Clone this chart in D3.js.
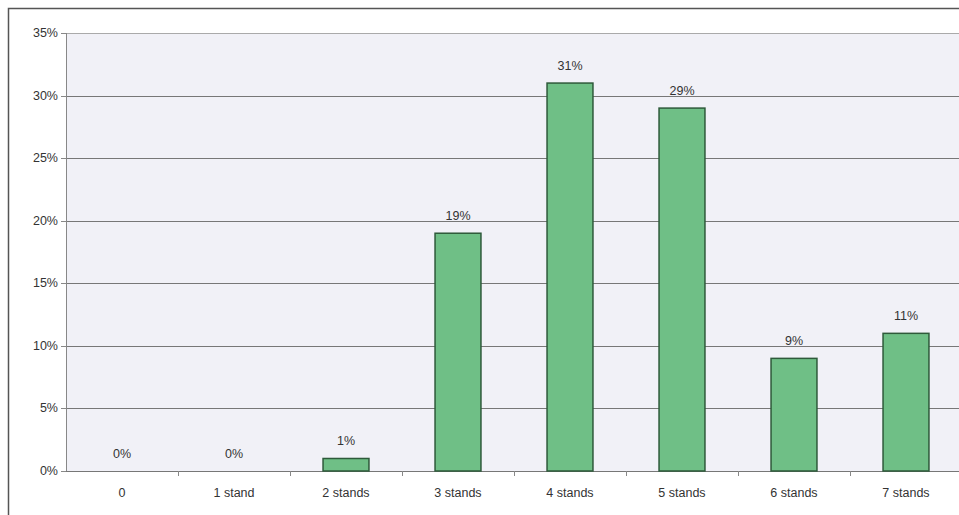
<!DOCTYPE html>
<html>
<head>
<meta charset="utf-8">
<script src="https://cdn.jsdelivr.net/npm/d3@7"></script>
<style>
  body { margin: 0; background: #fff; }
  text { font-family: "Liberation Sans", Arial, sans-serif; fill: #333; }
</style>
</head>
<body>
<script>
  var categories = ["0", "1 stand", "2 stands", "3 stands", "4 stands", "5 stands", "6 stands", "7 stands"];
  var values = [0, 0, 1, 19, 31, 29, 9, 11];
  var yTicks = [0, 5, 10, 15, 20, 25, 30, 35];

  var width = 959, height = 515;
  var margin = { top: 33, right: -3, bottom: 44, left: 66 };
  var w = width - margin.left - margin.right,
      h = height - margin.top - margin.bottom;

  var svg = d3.select("body").append("svg").attr("width", width).attr("height", height);

  // outer frame (top and left edges visible)
  svg.append("path").attr("d", "M8.5," + height + "V8.5H" + width)
    .attr("fill", "none").attr("stroke", "#555").attr("stroke-width", 1.5);

  var g = svg.append("g").attr("transform", "translate(" + margin.left + "," + margin.top + ")");

  var x = d3.scaleBand().domain(categories).range([0, w]).paddingInner(0.59).paddingOuter(0.295);
  var xb = d3.scaleBand().domain(categories).range([0, w]);
  var y = d3.scaleLinear().domain([0, 35]).range([h, 0]);

  g.append("rect").attr("width", w).attr("height", h).attr("fill", "#f1f1f7");

  g.selectAll(".grid").data(yTicks).enter().append("line")
    .attr("x1", 0).attr("x2", w)
    .attr("y1", function(d) { return Math.round(y(d)) + 0.5; })
    .attr("y2", function(d) { return Math.round(y(d)) + 0.5; })
    .attr("stroke", function(d) { return d === 35 ? "#aaa" : "#777"; });

  // y axis
  g.append("line").attr("x1", 0.5).attr("x2", 0.5).attr("y1", 0).attr("y2", h).attr("stroke", "#888");
  g.selectAll(".ytick").data(yTicks).enter().append("line")
    .attr("x1", -5).attr("x2", 0)
    .attr("y1", function(d) { return Math.round(y(d)) + 0.5; })
    .attr("y2", function(d) { return Math.round(y(d)) + 0.5; })
    .attr("stroke", "#888");
  g.selectAll(".ylab").data(yTicks).enter().append("text")
    .attr("x", -8).attr("y", function(d) { return y(d) + 4; })
    .attr("text-anchor", "end").style("font-size", "12.5px")
    .text(function(d) { return d + "%"; });

  // x ticks at category boundaries
  g.selectAll(".xtick").data(categories.slice(1)).enter().append("line")
    .attr("x1", function(d) { return Math.round(xb(d)) + 0.5; })
    .attr("x2", function(d) { return Math.round(xb(d)) + 0.5; })
    .attr("y1", h).attr("y2", h + 5).attr("stroke", "#888");

  g.selectAll(".bar").data(values).enter().append("rect")
    .attr("x", function(d, i) { return x(categories[i]); })
    .attr("y", function(d) { return y(d); })
    .attr("width", x.bandwidth())
    .attr("height", function(d) { return h - y(d); })
    .attr("fill", function(d) { return d > 0 ? "#6fbf86" : "none"; })
    .attr("stroke", function(d) { return d > 0 ? "#2e5a3a" : "none"; })
    .attr("stroke-width", 1.5);

  g.selectAll(".val").data(values).enter().append("text")
    .attr("x", function(d, i) { return x(categories[i]) + x.bandwidth() / 2; })
    .attr("y", function(d) { return y(d) - 13; })
    .attr("text-anchor", "middle").style("font-size", "12.5px")
    .text(function(d) { return d + "%"; });

  g.selectAll(".xlab").data(categories).enter().append("text")
    .attr("x", function(d) { return x(d) + x.bandwidth() / 2; })
    .attr("y", h + 26)
    .attr("text-anchor", "middle").style("font-size", "12.5px")
    .text(function(d) { return d; });
</script>
</body>
</html>
